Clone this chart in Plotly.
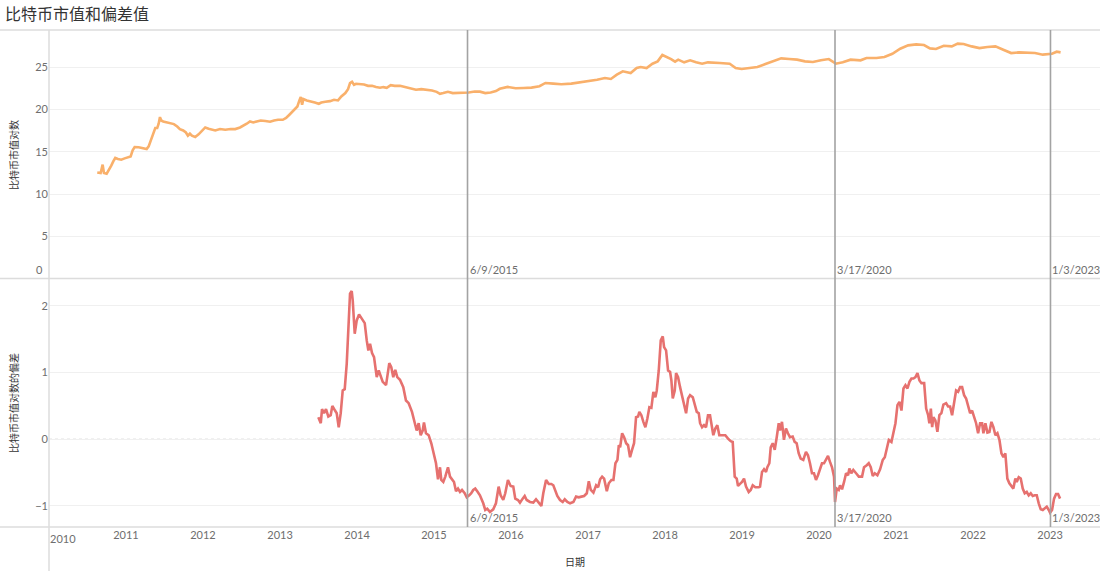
import datetime as dt
import plotly.graph_objects as go
from plotly.subplots import make_subplots

# ---------------- data (decimal year, value) ----------------
cap_years = [
    2010.627, 2010.671, 2010.697, 2010.714, 2010.749, 2010.783, 2010.809, 2010.835, 2010.861, 2010.896,
    2010.939, 2010.983, 2011.026, 2011.061, 2011.087, 2011.113, 2011.165, 2011.225, 2011.269, 2011.295,
    2011.329, 2011.355, 2011.381, 2011.406, 2011.425, 2011.442, 2011.458, 2011.484, 2011.529, 2011.581,
    2011.623, 2011.666, 2011.701, 2011.744, 2011.779, 2011.805, 2011.831, 2011.857, 2011.900, 2011.944,
    2011.987, 2012.030, 2012.074, 2012.117, 2012.160, 2012.221, 2012.290, 2012.360, 2012.419, 2012.481,
    2012.532, 2012.568, 2012.610, 2012.653, 2012.697, 2012.749, 2012.809, 2012.870, 2012.922, 2012.974,
    2013.035, 2013.078, 2013.121, 2013.165, 2013.199, 2013.225, 2013.251, 2013.269, 2013.286, 2013.303,
    2013.347, 2013.399, 2013.451, 2013.503, 2013.536, 2013.588, 2013.649, 2013.701, 2013.753, 2013.796,
    2013.848, 2013.883, 2013.909, 2013.935, 2013.961, 2013.987, 2014.039, 2014.091, 2014.143, 2014.195,
    2014.247, 2014.299, 2014.342, 2014.386, 2014.438, 2014.490, 2014.558, 2014.627, 2014.697, 2014.766,
    2014.835, 2014.905, 2014.974, 2015.035, 2015.078, 2015.121, 2015.182, 2015.243, 2015.312, 2015.381,
    2015.451, 2015.529, 2015.597, 2015.666, 2015.736, 2015.805, 2015.855, 2015.957, 2016.061, 2016.164,
    2016.266, 2016.370, 2016.447, 2016.549, 2016.653, 2016.782, 2016.910, 2017.013, 2017.116, 2017.219,
    2017.296, 2017.373, 2017.451, 2017.553, 2017.631, 2017.682, 2017.760, 2017.836, 2017.904, 2017.965,
    2018.027, 2018.078, 2018.130, 2018.171, 2018.248, 2018.326, 2018.403, 2018.481, 2018.557, 2018.634,
    2018.712, 2018.840, 2018.917, 2018.995, 2019.097, 2019.200, 2019.304, 2019.406, 2019.509, 2019.613,
    2019.716, 2019.818, 2019.921, 2020.025, 2020.127, 2020.219, 2020.308, 2020.410, 2020.539, 2020.616,
    2020.745, 2020.848, 2020.951, 2021.053, 2021.156, 2021.260, 2021.362, 2021.440, 2021.517, 2021.619,
    2021.723, 2021.800, 2021.877, 2021.981, 2022.083, 2022.186, 2022.290, 2022.392, 2022.495, 2022.597,
    2022.701, 2022.804, 2022.906, 2023.025, 2023.087, 2023.137,
]
cap_log = [
    12.56, 12.49, 13.48, 12.49, 12.41, 12.88, 13.36, 13.87, 14.27, 14.15,
    14.07, 14.22, 14.38, 14.46, 15.17, 15.57, 15.53, 15.45, 15.33, 15.64,
    16.43, 17.14, 17.81, 17.81, 18.32, 19.11, 18.71, 18.59, 18.48, 18.32,
    18.28, 18.00, 17.69, 17.53, 17.29, 16.90, 17.14, 16.90, 16.75, 17.06,
    17.41, 17.88, 17.73, 17.61, 17.53, 17.69, 17.61, 17.69, 17.69, 17.88,
    18.09, 18.32, 18.59, 18.48, 18.59, 18.71, 18.64, 18.56, 18.71, 18.79,
    18.79, 19.00, 19.39, 19.78, 20.06, 20.37, 21.08, 21.48, 20.57, 21.24,
    21.08, 21.00, 20.84, 20.69, 20.84, 20.92, 21.00, 21.16, 21.08, 21.55,
    21.95, 22.42, 23.13, 23.29, 22.93, 23.05, 23.05, 22.97, 22.81, 22.81,
    22.66, 22.58, 22.66, 22.58, 22.89, 22.81, 22.81, 22.66, 22.58, 22.34,
    22.42, 22.34, 22.26, 22.10, 21.87, 21.95, 22.10, 21.95, 21.95, 21.95,
    22.02, 22.14, 22.12, 21.95, 22.02, 22.19, 22.46, 22.68, 22.52, 22.56,
    22.60, 22.76, 23.15, 23.07, 22.99, 23.07, 23.23, 23.43, 23.54, 23.74,
    23.62, 24.13, 24.53, 24.33, 24.92, 25.04, 24.92, 25.43, 25.71, 26.46,
    26.22, 25.98, 25.67, 25.91, 25.59, 25.83, 25.59, 25.43, 25.59, 25.51,
    25.51, 25.43, 24.92, 24.80, 24.88, 25.04, 25.39, 25.71, 26.06, 25.98,
    25.91, 25.71, 25.63, 25.83, 25.98, 25.43, 25.59, 25.91, 25.83, 26.10,
    26.10, 26.22, 26.61, 27.20, 27.60, 27.72, 27.64, 27.24, 27.17, 27.56,
    27.48, 27.80, 27.76, 27.48, 27.28, 27.40, 27.48, 27.09, 26.69, 26.77,
    26.69, 26.69, 26.50, 26.61, 26.85, 26.77,
]

dev_years = [
    2013.497, 2013.529, 2013.545, 2013.571, 2013.597, 2013.627, 2013.658, 2013.679, 2013.714, 2013.736,
    2013.762, 2013.788, 2013.814, 2013.840, 2013.866, 2013.892, 2013.909, 2013.931, 2013.944, 2013.970,
    2013.996, 2014.026, 2014.056, 2014.100, 2014.126, 2014.147, 2014.169, 2014.195, 2014.221, 2014.256,
    2014.282, 2014.308, 2014.334, 2014.377, 2014.394, 2014.419, 2014.445, 2014.471, 2014.497, 2014.523,
    2014.558, 2014.601, 2014.636, 2014.671, 2014.714, 2014.740, 2014.775, 2014.801, 2014.827, 2014.853,
    2014.870, 2014.896, 2014.931, 2014.965, 2015.000, 2015.026, 2015.052, 2015.078, 2015.095, 2015.121,
    2015.147, 2015.182, 2015.208, 2015.234, 2015.260, 2015.286, 2015.312, 2015.338, 2015.364, 2015.399,
    2015.425, 2015.458, 2015.484, 2015.510, 2015.536, 2015.562, 2015.597, 2015.640, 2015.666, 2015.692,
    2015.727, 2015.770, 2015.805, 2015.840, 2015.866, 2015.900, 2015.926, 2015.961, 2015.996, 2016.030,
    2016.056, 2016.091, 2016.117, 2016.152, 2016.178, 2016.204, 2016.247, 2016.290, 2016.325, 2016.360,
    2016.394, 2016.419, 2016.455, 2016.490, 2016.523, 2016.549, 2016.575, 2016.601, 2016.636, 2016.671,
    2016.697, 2016.731, 2016.766, 2016.809, 2016.844, 2016.879, 2016.913, 2016.948, 2016.983, 2017.009,
    2017.035, 2017.069, 2017.104, 2017.130, 2017.156, 2017.182, 2017.208, 2017.243, 2017.269, 2017.303,
    2017.329, 2017.355, 2017.381, 2017.399, 2017.416, 2017.442, 2017.468, 2017.494, 2017.519, 2017.545,
    2017.571, 2017.597, 2017.623, 2017.649, 2017.666, 2017.692, 2017.718, 2017.744, 2017.770, 2017.796,
    2017.822, 2017.848, 2017.874, 2017.892, 2017.918, 2017.944, 2017.970, 2017.987, 2018.013, 2018.039,
    2018.065, 2018.082, 2018.100, 2018.126, 2018.143, 2018.169, 2018.195, 2018.221, 2018.247, 2018.273,
    2018.299, 2018.325, 2018.360, 2018.386, 2018.412, 2018.438, 2018.455, 2018.481, 2018.506, 2018.532,
    2018.558, 2018.584, 2018.610, 2018.627, 2018.653, 2018.679, 2018.705, 2018.740, 2018.783, 2018.818,
    2018.853, 2018.879, 2018.905, 2018.931, 2018.948, 2018.974, 2019.000, 2019.026, 2019.052, 2019.087,
    2019.113, 2019.139, 2019.173, 2019.217, 2019.234, 2019.260, 2019.286, 2019.312, 2019.329, 2019.355,
    2019.373, 2019.399, 2019.425, 2019.451, 2019.477, 2019.494, 2019.519, 2019.545, 2019.571, 2019.597,
    2019.623, 2019.658, 2019.684, 2019.710, 2019.736, 2019.762, 2019.796, 2019.831, 2019.857, 2019.883,
    2019.909, 2019.935, 2019.961, 2019.987, 2020.013, 2020.039, 2020.065, 2020.091, 2020.117, 2020.143,
    2020.169, 2020.195, 2020.208, 2020.230, 2020.256, 2020.273, 2020.299, 2020.325, 2020.351, 2020.377,
    2020.394, 2020.419, 2020.445, 2020.481, 2020.516, 2020.558, 2020.584, 2020.619, 2020.645, 2020.671,
    2020.697, 2020.723, 2020.757, 2020.792, 2020.827, 2020.853, 2020.879, 2020.905, 2020.939, 2020.965,
    2020.991, 2021.017, 2021.043, 2021.069, 2021.095, 2021.121, 2021.147, 2021.173, 2021.199, 2021.225,
    2021.251, 2021.277, 2021.303, 2021.329, 2021.364, 2021.390, 2021.416, 2021.432, 2021.451, 2021.468,
    2021.484, 2021.510, 2021.536, 2021.562, 2021.588, 2021.614, 2021.649, 2021.675, 2021.701, 2021.727,
    2021.753, 2021.779, 2021.805, 2021.831, 2021.857, 2021.883, 2021.909, 2021.935, 2021.961, 2021.987,
    2022.013, 2022.039, 2022.065, 2022.091, 2022.117, 2022.134, 2022.160, 2022.186, 2022.212, 2022.238,
    2022.264, 2022.290, 2022.316, 2022.342, 2022.368, 2022.394, 2022.419, 2022.445, 2022.471, 2022.497,
    2022.523, 2022.549, 2022.567, 2022.593, 2022.619, 2022.645, 2022.671, 2022.697, 2022.723, 2022.749,
    2022.775, 2022.801, 2022.827, 2022.853, 2022.879, 2022.905, 2022.931, 2022.957, 2022.983, 2023.000,
    2023.026, 2023.052, 2023.078, 2023.104, 2023.130,
]
dev_values = [
    0.33, 0.24, 0.45, 0.39, 0.45, 0.34, 0.36, 0.50, 0.43, 0.39,
    0.18, 0.39, 0.73, 0.75, 1.13, 1.83, 2.18, 2.22, 2.08, 1.58,
    1.78, 1.87, 1.81, 1.74, 1.48, 1.33, 1.43, 1.29, 1.23, 0.93,
    1.03, 0.93, 0.86, 0.81, 0.93, 1.14, 1.08, 0.93, 1.04, 0.93,
    0.89, 0.78, 0.58, 0.54, 0.41, 0.28, 0.13, 0.24, 0.06, 0.13,
    0.25, 0.09, 0.06, -0.06, -0.21, -0.36, -0.60, -0.42, -0.61, -0.64,
    -0.56, -0.42, -0.56, -0.61, -0.64, -0.78, -0.74, -0.79, -0.76, -0.81,
    -0.87, -0.84, -0.81, -0.76, -0.74, -0.78, -0.84, -0.96, -1.06, -1.04,
    -1.09, -1.05, -0.96, -0.71, -0.84, -0.91, -0.81, -0.61, -0.70, -0.71,
    -0.89, -0.91, -0.95, -0.89, -0.85, -0.91, -0.94, -0.95, -0.90, -0.95,
    -1.00, -0.81, -0.61, -0.67, -0.67, -0.69, -0.76, -0.85, -0.91, -0.94,
    -0.90, -0.94, -0.96, -0.94, -0.86, -0.87, -0.86, -0.85, -0.81, -0.63,
    -0.76, -0.80, -0.69, -0.72, -0.60, -0.56, -0.59, -0.78, -0.66, -0.61,
    -0.61, -0.36, -0.31, -0.09, -0.12, 0.09, 0.03, -0.06, -0.09, -0.27,
    -0.16, -0.06, 0.33, 0.34, 0.41, 0.36, 0.26, 0.18, 0.31, 0.48,
    0.47, 0.71, 0.63, 0.73, 1.03, 1.48, 1.54, 1.38, 1.33, 1.03,
    1.01, 0.88, 0.61, 0.73, 0.99, 0.93, 0.78, 0.66, 0.54, 0.39,
    0.61, 0.66, 0.63, 0.52, 0.41, 0.39, 0.24, 0.18, 0.21, 0.18,
    0.36, 0.36, 0.18, 0.06, 0.16, 0.21, 0.06, 0.06, 0.06, 0.01,
    -0.03, -0.04, -0.56, -0.59, -0.70, -0.67, -0.64, -0.59, -0.71, -0.79,
    -0.76, -0.69, -0.72, -0.72, -0.71, -0.49, -0.45, -0.49, -0.42, -0.36,
    -0.12, -0.06, -0.16, 0.03, 0.24, 0.13, 0.26, -0.01, 0.16, 0.09,
    0.03, 0.04, -0.04, -0.06, -0.21, -0.29, -0.31, -0.19, -0.24, -0.36,
    -0.51, -0.51, -0.61, -0.54, -0.44, -0.36, -0.36, -0.31, -0.25, -0.34,
    -0.42, -0.56, -0.94, -0.74, -0.76, -0.69, -0.75, -0.64, -0.51, -0.54,
    -0.44, -0.51, -0.46, -0.51, -0.56, -0.56, -0.42, -0.39, -0.36, -0.42,
    -0.55, -0.51, -0.54, -0.45, -0.31, -0.27, -0.14, -0.01, -0.04, 0.09,
    0.24, 0.51, 0.56, 0.43, 0.76, 0.81, 0.76, 0.86, 0.91, 0.91,
    0.93, 0.99, 0.88, 0.84, 0.84, 0.46, 0.36, 0.24, 0.46, 0.18,
    0.33, 0.28, 0.11, 0.36, 0.39, 0.52, 0.54, 0.49, 0.49, 0.36,
    0.56, 0.73, 0.71, 0.78, 0.78, 0.66, 0.61, 0.48, 0.39, 0.43,
    0.33, 0.24, 0.09, 0.24, 0.24, 0.09, 0.24, 0.10, 0.11, 0.26,
    0.18, 0.06, 0.09, -0.01, -0.21, -0.27, -0.21, -0.59, -0.66, -0.71,
    -0.74, -0.59, -0.64, -0.57, -0.59, -0.74, -0.81, -0.79, -0.84, -0.81,
    -0.85, -0.84, -0.84, -0.96, -1.05, -1.06, -1.04, -1.01, -1.06, -1.10,
    -1.06, -0.89, -0.82, -0.82, -0.89,
]

ref_dates = ["2015-06-09", "2020-03-17", "2023-01-03"]
ref_labels = ["6/9/2015", "3/17/2020", "1/3/2023"]
year_ticks = list(range(2010, 2024))

TITLE = "比特币市值和偏差值"
Y1_TITLE = "比特币市值对数"
Y2_TITLE = "比特币市值对数的偏差"
X_TITLE = "日期"


def to_date(y):
    yr = int(y)
    start = dt.datetime(yr, 1, 1)
    end = dt.datetime(yr + 1, 1, 1)
    return start + (end - start) * (y - yr)


cap_x = [to_date(v) for v in cap_years]
dev_x = [to_date(v) for v in dev_years]

FONT = "Lato, 'Noto Sans CJK SC', sans-serif"
TICK_C = "#6e6e6e"
TXT_C = "#333333"
GRID_C = "#f0f0f0"
BORDER_C = "#dcdcdc"

fig = make_subplots(rows=2, cols=1, shared_xaxes=True, vertical_spacing=0)

fig.add_trace(go.Scatter(x=cap_x, y=cap_log, mode="lines",
                         line=dict(color="#f9b06b", width=2.6), showlegend=False,
                         name=Y1_TITLE), row=1, col=1)
fig.add_trace(go.Scatter(x=dev_x, y=dev_values, mode="lines",
                         line=dict(color="#e6716f", width=2.6), showlegend=False,
                         name=Y2_TITLE), row=2, col=1)

W, H = 1100, 571
ML, MR, MT, MB = 49, 0, 30, 44
PW = W - ML - MR
PH = H - MT - MB

x_start = dt.datetime(2010, 1, 1)
x_end = to_date(2023.649)

xaxis_common = dict(range=[x_start, x_end], showgrid=False, zeroline=False,
                    showline=False, ticks="")
fig.update_xaxes(**xaxis_common)
fig.update_xaxes(showticklabels=False, row=1, col=1)
fig.update_xaxes(tickvals=[dt.datetime(y, 1, 1) for y in year_ticks[1:]],
                 ticktext=[str(y) for y in year_ticks[1:]],
                 tickfont=dict(size=11, color=TICK_C, family=FONT),
                 showticklabels=True, row=2, col=1)

fig.update_yaxes(range=[0, 29.42], tickvals=[5, 10, 15, 20, 25],
                 showgrid=True, gridcolor=GRID_C, gridwidth=1, zeroline=False,
                 showline=False, ticks="",
                 tickfont=dict(size=11, color=TICK_C, family=FONT), row=1, col=1)
fig.update_yaxes(range=[-1.315, 2.408], tickvals=[-1, 0, 1, 2],
                 showgrid=True, gridcolor=GRID_C, gridwidth=1, zeroline=False,
                 showline=False, ticks="",
                 tickfont=dict(size=11, color=TICK_C, family=FONT), row=2, col=1)

fig.update_layout(yaxis=dict(domain=[0.5, 1.0]), yaxis2=dict(domain=[0.0, 0.5]))

shapes = []
px = lambda p: (p - ML) / PW  # pixel -> paper x
py = lambda p: 1 - (p - MT) / PH  # pixel -> paper y

# dotted zero line in lower pane
shapes.append(dict(type="line", xref="paper", yref="y2", x0=0, x1=1, y0=0, y1=0,
                   line=dict(color="#c8c8c8", width=1, dash="dot"), layer="below"))
# pane borders
shapes.append(dict(type="line", xref="paper", yref="paper", x0=px(0), x1=1, y0=1, y1=1,
                   line=dict(color=BORDER_C, width=1.5)))
shapes.append(dict(type="line", xref="paper", yref="paper", x0=px(0), x1=1, y0=0.5, y1=0.5,
                   line=dict(color=BORDER_C, width=1.5)))
shapes.append(dict(type="line", xref="paper", yref="paper", x0=px(0), x1=1, y0=0, y1=0,
                   line=dict(color=BORDER_C, width=1.5)))
shapes.append(dict(type="line", xref="paper", yref="paper", x0=0, x1=0, y0=py(H), y1=1,
                   line=dict(color=BORDER_C, width=1.5)))
# reference lines
for d in ref_dates:
    shapes.append(dict(type="line", xref="x", yref="paper", x0=d, x1=d, y0=0, y1=1,
                       line=dict(color="#a3a3a3", width=1.6)))

annotations = []
for d, lab in zip(ref_dates, ref_labels):
    for yref, yv in (("y", 0), ("y2", -1.315)):
        annotations.append(dict(x=d, y=yv, xref="x", yref=yref, text=lab, showarrow=False,
                                xanchor="left", yanchor="bottom", xshift=0, yshift=1,
                                font=dict(size=11, color=TICK_C, family=FONT)))
# top "0" label lifted inside pane
annotations.append(dict(x=0, y=0, xref="paper", yref="y", text="0", showarrow=False,
                        xanchor="right", yanchor="bottom", xshift=-4, yshift=1,
                        font=dict(size=11, color=TICK_C, family=FONT)))
# first year label aligned to the axis start
annotations.append(dict(x=0, y=py(538), xref="paper", yref="paper", text=str(year_ticks[0]),
                        showarrow=False, xanchor="left", yanchor="middle", xshift=-1,
                        font=dict(size=11, color=TICK_C, family=FONT)))
# axis titles
annotations.append(dict(x=px(14), y=py(155), xref="paper", yref="paper", text=Y1_TITLE,
                        textangle=-90, showarrow=False, xanchor="center", yanchor="middle",
                        font=dict(size=10, color=TXT_C, family=FONT)))
annotations.append(dict(x=px(14), y=py(403), xref="paper", yref="paper", text=Y2_TITLE,
                        textangle=-90, showarrow=False, xanchor="center", yanchor="middle",
                        font=dict(size=10, color=TXT_C, family=FONT)))
annotations.append(dict(x=0.5, y=py(562), xref="paper", yref="paper", text=X_TITLE,
                        showarrow=False, xanchor="center", yanchor="middle",
                        font=dict(size=10, color=TXT_C, family=FONT)))
annotations.append(dict(x=px(3), y=py(13), xref="paper", yref="paper", text=TITLE,
                        showarrow=False, xanchor="left", yanchor="middle",
                        font=dict(size=16, color=TXT_C, family=FONT)))

fig.update_layout(
    width=W, height=H,
    margin=dict(l=ML, r=MR, t=MT, b=MB, pad=0),
    paper_bgcolor="white", plot_bgcolor="white",
    shapes=shapes, annotations=annotations,
    showlegend=False,
    font=dict(family=FONT, color=TXT_C),
)

fig.write_html("out.html", config={"displayModeBar": False},
               post_script="document.body.style.margin='0';document.body.style.overflow='hidden';")
